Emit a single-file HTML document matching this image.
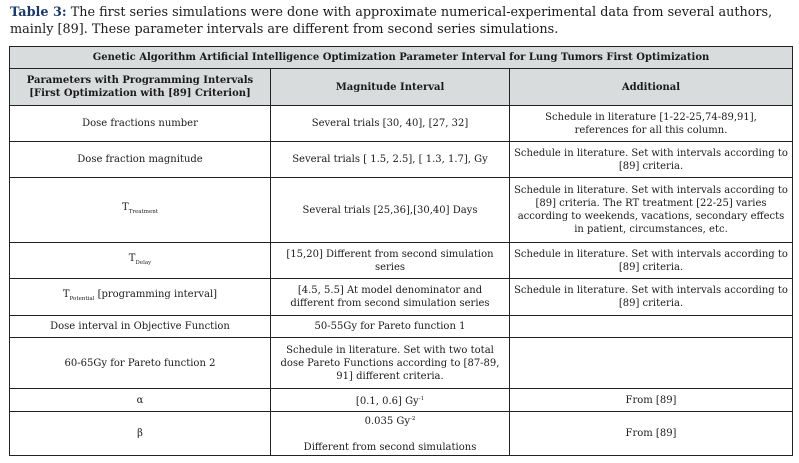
<!DOCTYPE html>
<html><head><meta charset="utf-8"><style>
body{margin:0;width:799px;height:463px;background:#fff;font-family:"DejaVu Serif","Liberation Serif",serif;color:#1a1a1a;position:relative;overflow:hidden}
.cap{position:absolute;left:10px;top:4px;font-size:12.8px;line-height:17px;width:785px}
.cap b{color:#1c3866}
table{position:absolute;left:9px;top:46px;border-collapse:collapse;table-layout:fixed;font-size:10px;line-height:13px}
td{border:1.3px solid #222;text-align:center;vertical-align:middle;padding:0 4px}
.h{background:#d8dcdc;font-weight:bold}
sub{font-size:5.5px;vertical-align:-3px}
sup{font-size:5.5px;vertical-align:4px}
</style></head><body>
<div class="cap"><b>Table 3:</b> The first series simulations were done with approximate numerical-experimental data from several authors, mainly [89]. These parameter intervals are different from second series simulations.</div>
<table>
<colgroup><col style="width:261px"><col style="width:239px"><col style="width:283px"></colgroup>
<tr style="height:22px"><td class="h" colspan="3">Genetic Algorithm Artificial Intelligence Optimization Parameter Interval for Lung Tumors First Optimization</td></tr>
<tr style="height:37px"><td class="h">Parameters with Programming Intervals<br>[First Optimization with [89] Criterion]</td><td class="h">Magnitude Interval</td><td class="h">Additional</td></tr>
<tr style="height:36px"><td>Dose fractions number</td><td>Several trials [30, 40], [27, 32]</td><td>Schedule in literature [1-22-25,74-89,91],<br>references for all this column.</td></tr>
<tr style="height:36px"><td>Dose fraction magnitude</td><td>Several trials [ 1.5, 2.5], [ 1.3, 1.7], Gy</td><td>Schedule in literature. Set with intervals according to [89] criteria.</td></tr>
<tr style="height:65px"><td>T<sub>Treatment</sub></td><td>Several trials [25,36],[30,40] Days</td><td>Schedule in literature. Set with intervals according to [89] criteria. The RT treatment [22-25] varies according to weekends, vacations, secondary effects in patient, circumstances, etc.</td></tr>
<tr style="height:36px"><td>T<sub>Delay</sub></td><td>[15,20] Different from second simulation series</td><td>Schedule in literature. Set with intervals according to [89] criteria.</td></tr>
<tr style="height:37px"><td>T<sub>Potential</sub> [programming interval]</td><td>[4.5, 5.5] At model denominator and different from second simulation series</td><td>Schedule in literature. Set with intervals according to [89] criteria.</td></tr>
<tr style="height:22px"><td>Dose interval in Objective Function</td><td>50-55Gy for Pareto function 1</td><td></td></tr>
<tr style="height:51px"><td>60-65Gy for Pareto function 2</td><td>Schedule in literature. Set with two total dose Pareto Functions according to [87-89, 91] different criteria.</td><td></td></tr>
<tr style="height:23px"><td>α</td><td>[0.1, 0.6] Gy<sup>-1</sup></td><td>From [89]</td></tr>
<tr style="height:44px"><td>β</td><td>0.035 Gy<sup>-2</sup><br><br>Different from second simulations</td><td>From [89]</td></tr>
</table>
</body></html>
